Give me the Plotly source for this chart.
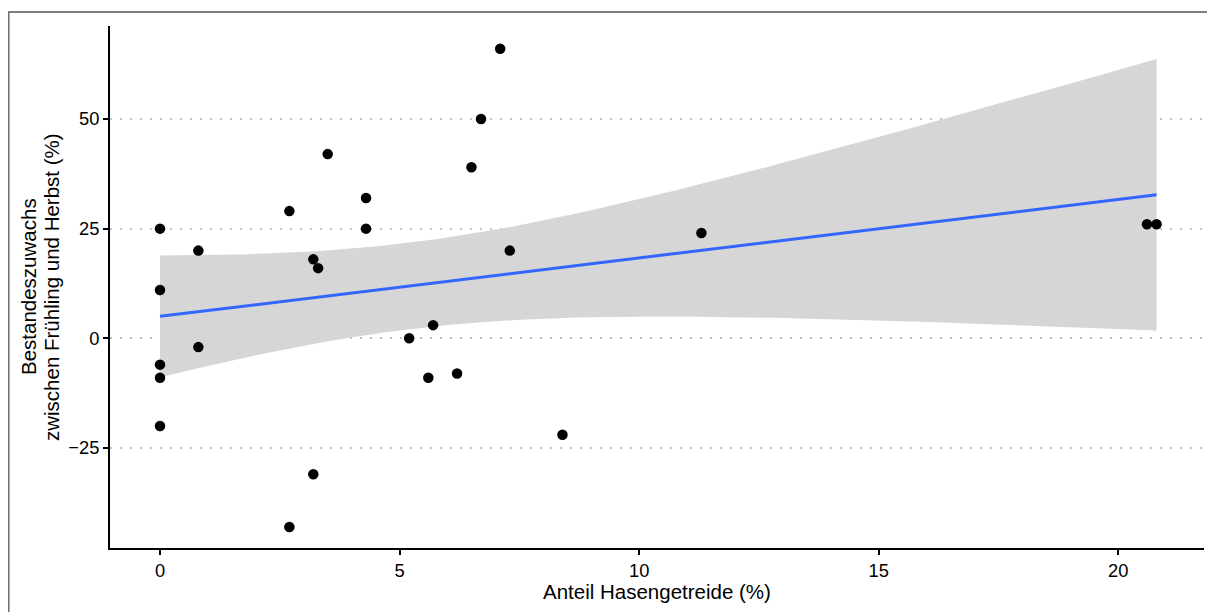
import numpy as np
import plotly.graph_objects as go

# Data
anteil = [0, 0, 0, 0, 0, 0.8, 0.8, 2.7, 2.7, 3.2, 3.3, 3.2, 3.5, 4.3, 4.3,
          5.2, 5.7, 5.6, 6.2, 6.5, 6.7, 7.1, 7.3, 8.4, 11.3, 20.6, 20.8]
zuwachs = [25, 11, -6, -9, -20, 20, -2, 29, -43, 18, 16, -31, 42, 32, 25,
           0, 3, -9, -8, 39, 50, 66, 20, -22, 24, 26, 26]
x_ticks = [0, 5, 10, 15, 20]
y_ticks = [-25, 0, 25, 50]
y_tick_labels = ["\u221225", "0", "25", "50"]
x_title = "Anteil Hasengetreide (%)"
y_title_lines = ["Bestandeszuwachs", "zwischen Frühling und Herbst (%)"]

# Linear model fit with 95% confidence band (as geom_smooth(method="lm"))
x = np.array(anteil, dtype=float)
y = np.array(zuwachs, dtype=float)
n = len(x)
b1, b0 = np.polyfit(x, y, 1)
resid = y - (b0 + b1 * x)
s = np.sqrt(np.sum(resid ** 2) / (n - 2))
xm = x.mean()
sxx = np.sum((x - xm) ** 2)
t_crit = 2.0595  # t quantile 0.975, df = 25
xs = np.linspace(x.min(), x.max(), 80)
fit = b0 + b1 * xs
se = s * np.sqrt(1 / n + (xs - xm) ** 2 / sxx)
upper = fit + t_crit * se
lower = fit - t_crit * se

fig = go.Figure()
fig.add_trace(go.Scatter(
    x=np.concatenate([xs, xs[::-1]]), y=np.concatenate([upper, lower[::-1]]),
    fill="toself", fillcolor="rgb(214,214,214)", line=dict(width=0),
    mode="lines", hoverinfo="skip", showlegend=False))
fig.add_trace(go.Scatter(
    x=xs, y=fit, mode="lines", line=dict(color="#3366FF", width=3),
    showlegend=False))
fig.add_trace(go.Scatter(
    x=anteil, y=zuwachs, mode="markers",
    marker=dict(color="black", size=10.5), showlegend=False))

FONT = "Liberation Sans, Arial, Helvetica, sans-serif"
axis_font = dict(family=FONT, size=18.3, color="black")
title_font = dict(family=FONT, size=20.5, color="black")

annotations = [
    dict(text=x_title, xref="paper", yref="paper", x=0.5, y=0,
         xanchor="center", yanchor="middle", yshift=-43, showarrow=False,
         font=title_font),
    dict(text=y_title_lines[0], xref="paper", yref="paper", x=0, y=0.5,
         xanchor="center", yanchor="middle", xshift=-82, textangle=-90,
         showarrow=False, font=title_font),
    dict(text=y_title_lines[1], xref="paper", yref="paper", x=0, y=0.5,
         xanchor="center", yanchor="middle", xshift=-59, textangle=-90,
         showarrow=False, font=title_font),
]

fig.update_layout(
    width=1215, height=612,
    margin=dict(l=102, r=19, t=18, b=72),
    paper_bgcolor="white", plot_bgcolor="white",
    xaxis=dict(
        range=[-1.044, 21.79], tickvals=x_ticks, ticktext=[str(v) for v in x_ticks],
        showgrid=False, zeroline=False, showline=True, linecolor="black", linewidth=2,
        ticks="outside", ticklen=5, tickwidth=2, tickcolor="black",
        tickfont=axis_font,
    ),
    yaxis=dict(
        range=[-47.8, 71.2], tickvals=y_ticks, ticktext=y_tick_labels,
        showgrid=True, gridcolor="#C2C2C2", gridwidth=1.6, griddash="2px,8px",
        zeroline=False, showline=True, linecolor="black", linewidth=2,
        ticks="outside", ticklen=5, tickwidth=2, tickcolor="black",
        tickfont=axis_font,
    ),
    annotations=annotations,
    shapes=[dict(type="path", xref="paper", yref="paper",
                 path="M -0.0925,-0.2 L -0.0925,1.0268 L 1.2,1.0268",
                 line=dict(color="#555555", width=1.3), layer="below")],
)

fig.write_html("out.html")
